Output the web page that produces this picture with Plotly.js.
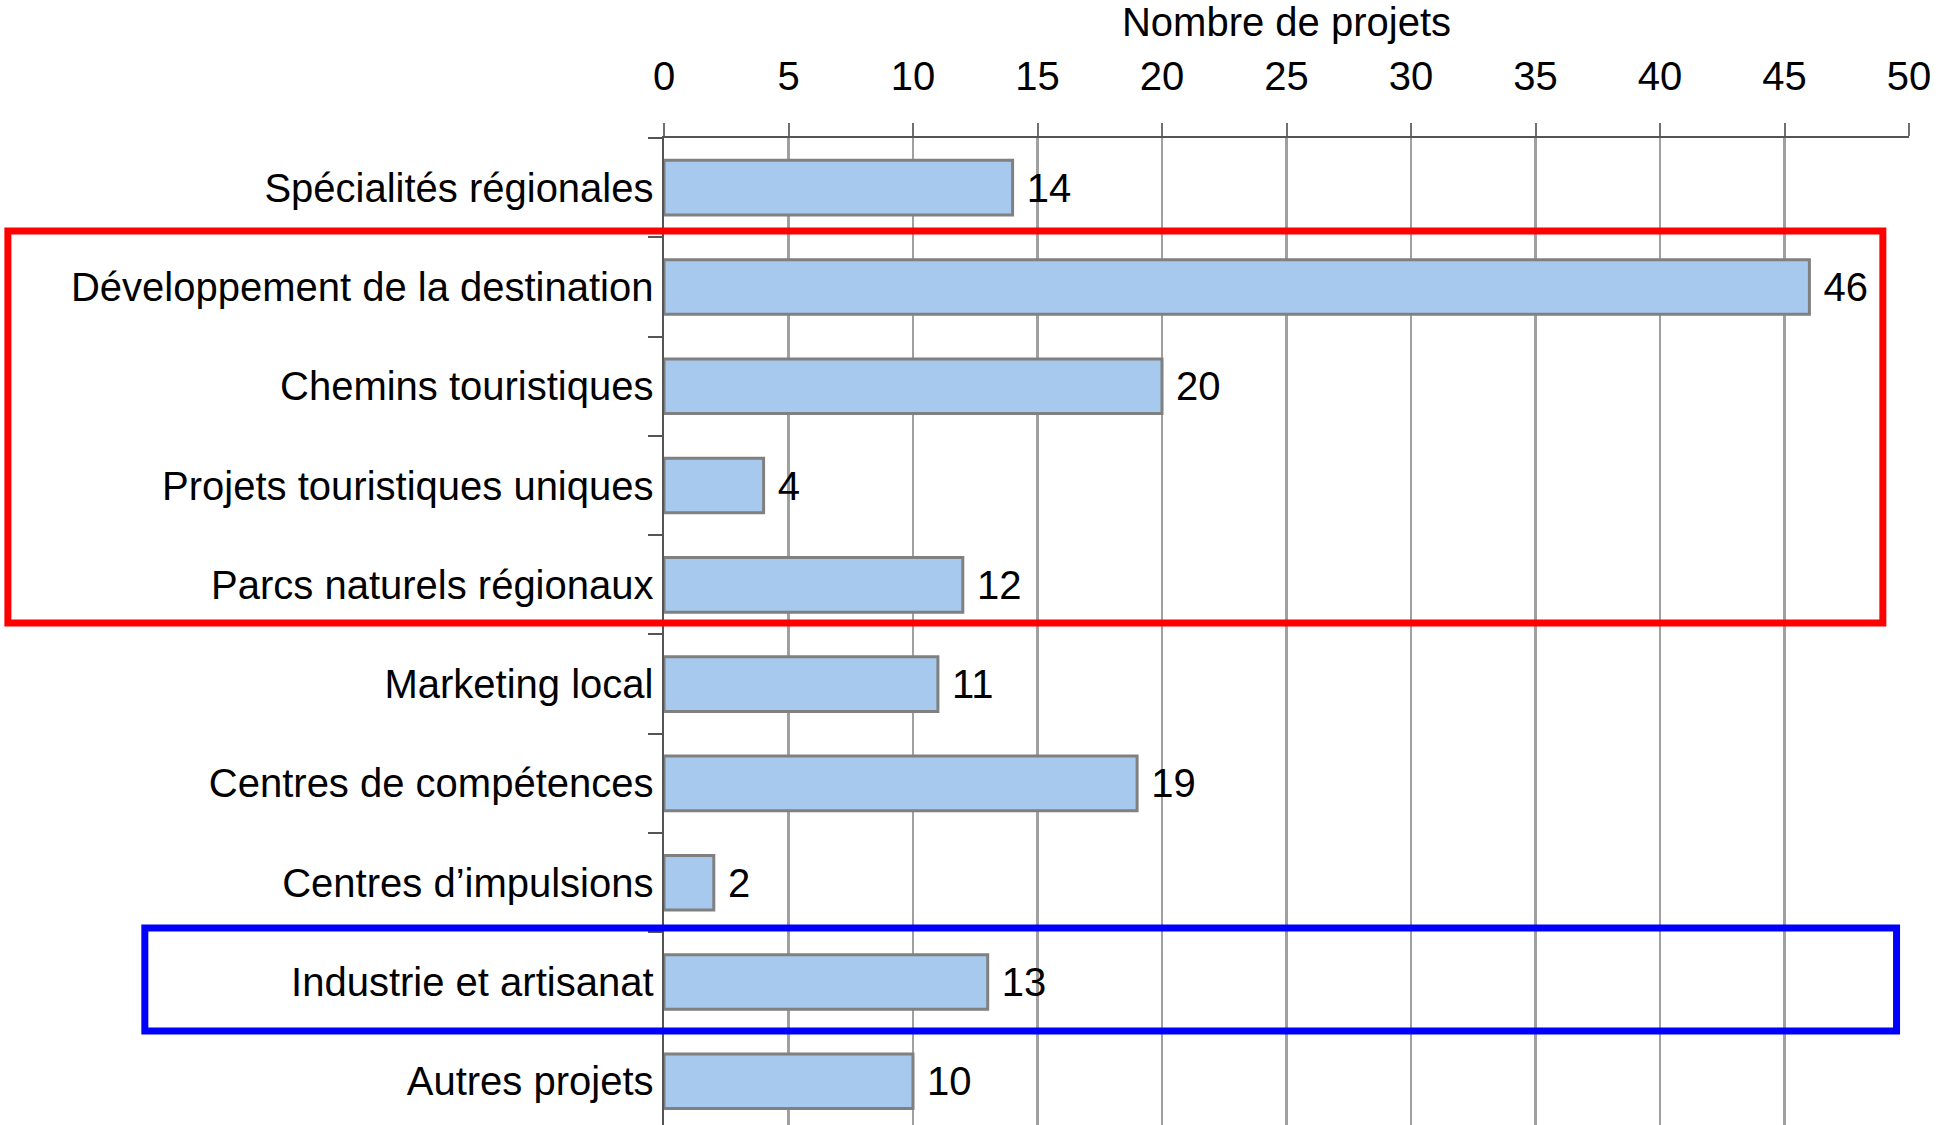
<!DOCTYPE html>
<html>
<head>
<meta charset="utf-8">
<script src="https://cdn.plot.ly/plotly-3.0.1.min.js"></script>
<style>html,body{margin:0;padding:0;overflow:hidden;background:#fff;}</style>
</head>
<body>
<div id="chart" style="width:1948px;height:1125px;"></div>
<script>
const categories = [
  "Spécialités régionales",
  "Développement de la destination",
  "Chemins touristiques",
  "Projets touristiques uniques",
  "Parcs naturels régionaux",
  "Marketing local",
  "Centres de compétences",
  "Centres d’impulsions",
  "Industrie et artisanat",
  "Autres projets"
];
const projectCounts = [14, 46, 20, 4, 12, 11, 19, 2, 13, 10];
const xTickValues = [0, 5, 10, 15, 20, 25, 30, 35, 40, 45, 50];

const FONT = '"Liberation Sans", Arial, sans-serif';

const trace = {
  type: 'bar',
  orientation: 'h',
  y: categories,
  x: projectCounts,
  width: 0.55,
  marker: { color: '#A7C9EE', line: { color: '#808080', width: 3 } },
  text: projectCounts.map(String),
  texttemplate: '\u00a0%{text}',
  textposition: 'outside',
  constraintext: 'none',
  cliponaxis: false,
  outsidetextfont: { family: FONT, size: 40, color: '#000' },
  hoverinfo: 'x+y'
};

const layout = {
  width: 1948,
  height: 1125,
  margin: { l: 664, r: 39, t: 138, b: 0, pad: 0 },
  paper_bgcolor: '#fff',
  plot_bgcolor: '#fff',
  font: { family: FONT, size: 40, color: '#000' },
  showlegend: false,
  xaxis: {
    side: 'top',
    range: [0, 50],
    tickvals: xTickValues,
    ticktext: xTickValues.map(String),
    showgrid: true,
    gridcolor: '#a0a0a0',
    gridwidth: 2.5,
    zeroline: false,
    showline: true,
    linecolor: '#555555',
    linewidth: 2.5,
    ticks: 'outside',
    ticklen: 13,
    tickwidth: 2,
    tickcolor: '#707070',
    tickfont: { family: FONT, size: 40, color: '#000' },
    ticklabelstandoff: 17,
    title: { text: 'Nombre de projets', font: { family: FONT, size: 40, color: '#000' }, standoff: 8 },
    fixedrange: true
  },
  yaxis: {
    type: 'category',
    range: [9.44, -0.5],
    autorange: false,
    showgrid: false,
    zeroline: false,
    showline: true,
    linecolor: '#555555',
    linewidth: 2.5,
    ticks: 'outside',
    tickson: 'boundaries',
    ticklen: 14,
    tickwidth: 2,
    tickcolor: '#555555',
    tickfont: { family: FONT, size: 40, color: '#000' },
    fixedrange: true
  },
  shapes: [
    {
      type: 'rect', xref: 'paper', yref: 'paper',
      x0: -0.527, x1: 0.979, y0: 0.5086, y1: 0.9058,
      line: { color: '#FF0000', width: 7 }, fillcolor: 'rgba(0,0,0,0)'
    },
    {
      type: 'rect', xref: 'paper', yref: 'paper',
      x0: -0.417, x1: 0.990, y0: 0.0952, y1: 0.1996,
      line: { color: '#0000FF', width: 7 }, fillcolor: 'rgba(0,0,0,0)'
    }
  ]
};

Plotly.newPlot('chart', [trace], layout, { displayModeBar: false, staticPlot: true });
</script>
</body>
</html>
